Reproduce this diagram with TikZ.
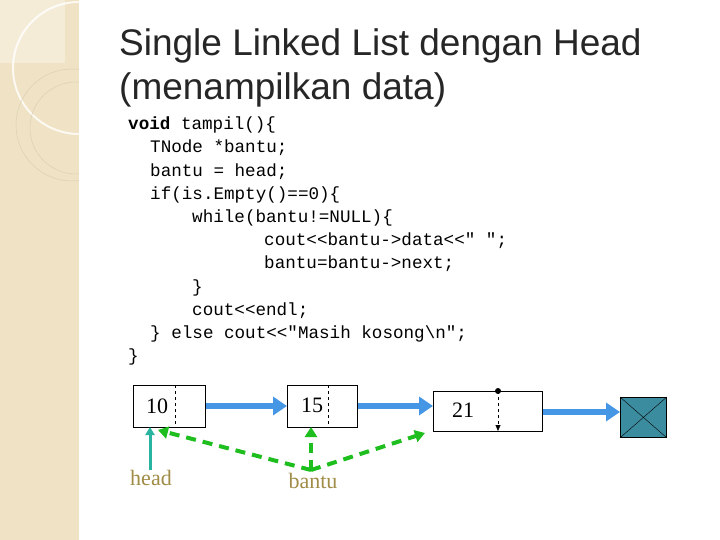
\documentclass[tikz,border=0pt]{standalone}
\usepackage{fontspec}
\setmainfont{Liberation Serif}
\newfontfamily\arial{Liberation Sans}
\newfontfamily\cour{Liberation Mono}
\usetikzlibrary{arrows.meta}
\definecolor{beige}{RGB}{240,226,196}
\definecolor{arrblue}{RGB}{70,150,230}
\definecolor{grn}{RGB}{30,190,30}
\definecolor{teal2}{RGB}{40,180,160}
\definecolor{olive2}{RGB}{160,140,70}
\definecolor{sq}{RGB}{60,140,160}
\begin{document}
\begin{tikzpicture}[x=1pt,y=-1pt,
  box/.style={draw,line width=0.8pt,anchor=north west,inner sep=0},
  code/.style={anchor=west,font=\cour\fontsize{17.6}{20}\selectfont,inner sep=0},
  num/.style={font=\fontsize{22}{24}\selectfont,inner sep=0},
  barr/.style={arrblue,line width=6pt,-{Triangle[length=14pt,width=18pt]}},
  garr/.style={grn,line width=4pt,dash pattern=on 10pt off 7pt,-{Triangle[length=10pt,width=12pt]}},
  lab/.style={olive2,font=\fontsize{22}{24}\selectfont,inner sep=0},
  ttl/.style={anchor=west,font=\arial\fontsize{37}{40}\selectfont,inner sep=0,text=black!85}]
\useasboundingbox (0,0) rectangle (720,540);
\fill[white] (0,0) rectangle (720,540);
\begin{scope}
\clip (0,0) rectangle (79,540);
\fill[beige] (0,0) rectangle (79,540);
\fill[white,opacity=0.35] (0,0) rectangle (65,63);
\draw[white,line width=2pt,opacity=0.8] (79,68) circle (66);
\draw[olive2!40,line width=0.5pt] (72,125) circle (56);
\draw[olive2!40,line width=0.5pt] (76,128) circle (46);
\end{scope}
\node[ttl] (t1) at (119,46) {Single Linked List dengan Head};
\node[ttl] (t2) at (119,90) {(menampilkan data)};
\node[code] (c1) at (128,125) {\textbf{void} tampil()\{};
\node[code] (c2) at (150,148) {TNode *bantu;};
\node[code] (c3) at (150,172) {bantu = head;};
\node[code] (c4) at (150,195) {if(is.Empty()==0)\{};
\node[code] (c5) at (192,218) {while(bantu!=NULL)\{};
\node[code] (c6) at (264,241) {cout<<bantu->data<<" ";};
\node[code] (c7) at (264,264) {bantu=bantu->next;};
\node[code] (c8) at (192,288) {\}};
\node[code] (c9) at (192,311) {cout<<endl;};
\node[code] (c10) at (150,334) {\} else cout<<"Masih kosong\textbackslash n";};
\node[code] (c11) at (128,357) {\}};
% nodes
\node[box,minimum width=72pt,minimum height=42pt] (b1) at (133,385) {};
\draw[dashed] (175,385) -- (175,427);
\node[num] (n1) at (157,406) {10};
\node[box,minimum width=70pt,minimum height=42pt] (b2) at (287,385) {};
\draw[dashed] (328,385) -- (328,427);
\node[num] (n2) at (312,405) {15};
\node[box,minimum width=109pt,minimum height=40pt] (b3) at (433,391) {};
\node[num] (n3) at (463,410) {21};
\fill (498,391) circle (3);
\draw[dashed,-{Triangle[length=6pt,width=5pt]}] (498,391) -- (498,431);
\node[box,fill=sq,minimum width=46pt,minimum height=40pt] (nul) at (620,397) {};
\draw (nul.north west) -- (nul.south east) (nul.north east) -- (nul.south west);
\draw[barr] (b1.east |- 0,406) -- (b2.west |- 0,406);
\draw[barr] (b2.east |- 0,406) -- (b3.west |- 0,406);
\draw[barr] (b3.east |- 0,412) -- (nul.west |- 0,412);
\node[lab] (head) at (151,478) {head};
\node[lab] (bantu) at (313,481) {bantu};
\coordinate (bp) at (311,470);
\draw[teal2,line width=3pt,-{Triangle[length=8pt,width=9pt]}] (head.north -| 150,0) -- (150,427);
\draw[garr] (bp) -- (158,430);
\draw[garr] (bp) -- (311,427);
\draw[garr] (bp) -- (425,433);
\end{tikzpicture}
\end{document}
